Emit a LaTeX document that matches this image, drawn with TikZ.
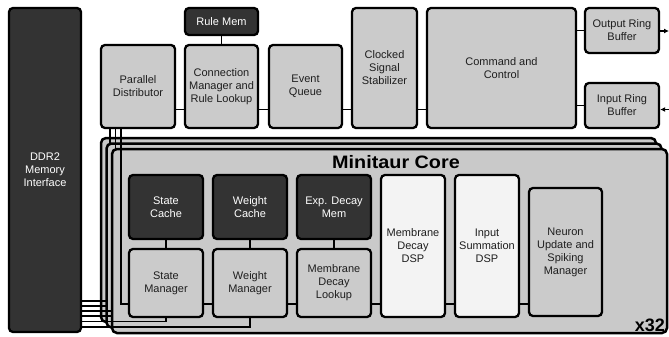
\documentclass[tikz,border=0pt]{standalone}
\usepackage{fontspec}
\setmainfont{Liberation Sans}
\newfontfamily\widebold[FakeStretch=1.1]{Liberation Sans}
\usetikzlibrary{arrows.meta}
\definecolor{boxgray}{HTML}{CBCBCB}
\definecolor{darkbox}{HTML}{333333}
\definecolor{dspwhite}{HTML}{F3F3F3}
\definecolor{corefill}{HTML}{C9C9C9}
\definecolor{textdark}{HTML}{1E1E1E}
\begin{document}
\begin{tikzpicture}[x=1pt,y=-1pt,
  box/.style={draw=black, line width=2.3pt, rounded corners=4pt, fill=boxgray,
    align=center, inner sep=0pt, text=textdark, font=\fontsize{11}{13}\selectfont},
  darkbx/.style={box, fill=darkbox, text=white},
  dspbx/.style={box, fill=dspwhite},
  corebx/.style={draw=black, line width=2.5pt, rounded corners=5pt, fill=corefill,
    minimum width=555, minimum height=184, inner sep=0pt},
  wire/.style={line width=1.4pt, line cap=rect},
  big/.style={font=\fontsize{18}{18}\selectfont\bfseries, text=black, inner sep=0pt}
]
\useasboundingbox (0,0) rectangle (669,337);

\coordinate (rowA) at (0,109.5);
\coordinate (rowB) at (0,304);

% top row
\node[darkbx, minimum width=72, minimum height=324] (ddr) at (45,170) {DDR2\\Memory\\Interface};
\node[box, minimum width=74, minimum height=83] (pd) at (138,86.5) {Parallel\\Distributor};
\node[box, minimum width=73, minimum height=83] (cm) at (221.5,86.5) {Connection\\Manager and\\Rule Lookup};
\node[darkbx, minimum width=73, minimum height=27] (rm) at (221.5,21.5) {Rule Mem};
\node[box, minimum width=73, minimum height=83] (eq) at (305.5,86.5) {Event\\Queue};
\node[box, minimum width=65, minimum height=120] (css) at (384.5,68) {Clocked\\Signal\\Stabilizer};
\node[box, minimum width=149, minimum height=120] (cc) at (501.5,68) {Command and\\Control};
\node[box, minimum width=74, minimum height=45] (orb) at (622,30.5) {Output Ring\\Buffer};
\node[box, minimum width=74, minimum height=45] (irb) at (622,105.5) {Input Ring\\Buffer};

\coordinate (outR) at (669,31);
\coordinate (inR) at (669,109.5);

\draw[wire] (rm) -- (cm);
\draw[wire] (pd.east |- rowA) -- (cm.west |- rowA);
\draw[wire] (cm.east |- rowA) -- (eq.west |- rowA);
\draw[wire] (eq.east |- rowA) -- (css.west |- rowA);
\draw[wire] (css.east |- rowA) -- (cc.west |- rowA);
\draw[wire] (cc.east |- irb.west) -- (irb.west);
\draw[wire] (cc.east |- orb.west) -- (orb.west);
\draw[wire, -{Latex[length=5pt,width=5pt]}] (orb.east |- outR) -- (outR);
\draw[wire, -{Latex[length=5pt,width=5pt]}] (inR) -- (irb.east |- inR);

% back layer
\node[corebx] (coreC) at (378.5,230) {};
\coordinate (pC) at (110,200);
\coordinate (dC1) at (150,301);
\coordinate (dC2) at (150,306);
\draw[wire] (pd.south -| pC) -- (pC);
\draw[wire] (ddr.east |- dC1) -- (dC1);
\draw[wire] (ddr.east |- dC2) -- (dC2);

% middle layer
\node[corebx] (coreB) at (384,235.5) {};
\coordinate (pB) at (115.5,200);
\coordinate (dB1) at (150,311);
\coordinate (dB2) at (150,316);
\draw[wire] (pd.south -| pB) -- (pB);
\draw[wire] (ddr.east |- dB1) -- (dB1);
\draw[wire] (ddr.east |- dB2) -- (dB2);

% front layer
\node[corebx] (coreA) at (389.5,241) {};
\node[big, font=\fontsize{18}{18}\selectfont\widebold\bfseries] (title) at (396,162) {Minitaur Core};
\node[big, anchor=east] (x32) at (665,325) {x32};

\coordinate (wx) at (121,0);
\coordinate (dA1) at (0,321.5);
\coordinate (dA2) at (0,327);

\node[darkbx, minimum width=74, minimum height=64] (sc) at (166,207) {State\\Cache};
\node[darkbx, minimum width=74, minimum height=64] (wc) at (250,207) {Weight\\Cache};
\node[darkbx, minimum width=74, minimum height=64] (edm) at (334,207) {Exp. Decay\\Mem};
\node[box, minimum width=74, minimum height=68] (sm) at (166,283) {State\\Manager};
\node[box, minimum width=74, minimum height=68] (wm) at (250,283) {Weight\\Manager};
\node[box, minimum width=74, minimum height=68] (mdl) at (334,283) {Membrane\\Decay\\Lookup};
\node[dspbx, minimum width=64, minimum height=142] (mdd) at (413,246) {Membrane\\Decay\\DSP};
\node[dspbx, minimum width=64, minimum height=142] (isd) at (487,246) {Input\\Summation\\DSP};
\node[box, minimum width=73, minimum height=128] (nu) at (565.5,252) {Neuron\\Update and\\Spiking\\Manager};

\draw[wire] (pd.south -| wx) |- (sm.west |- rowB);
\draw[wire] (ddr.east |- dA1) -| (sm.south);
\draw[wire] (ddr.east |- dA2) -| (wm.south);
\draw[wire] (sc) -- (sm);
\draw[wire] (wc) -- (wm);
\draw[wire] (edm) -- (mdl);
\draw[wire] (sm.east |- rowB) -- (wm.west |- rowB);
\draw[wire] (wm.east |- rowB) -- (mdl.west |- rowB);
\draw[wire] (mdl.east |- rowB) -- (mdd.west |- rowB);
\draw[wire] (mdd.east |- rowB) -- (isd.west |- rowB);
\draw[wire] (isd.east |- rowB) -- (nu.west |- rowB);
\end{tikzpicture}
\end{document}
